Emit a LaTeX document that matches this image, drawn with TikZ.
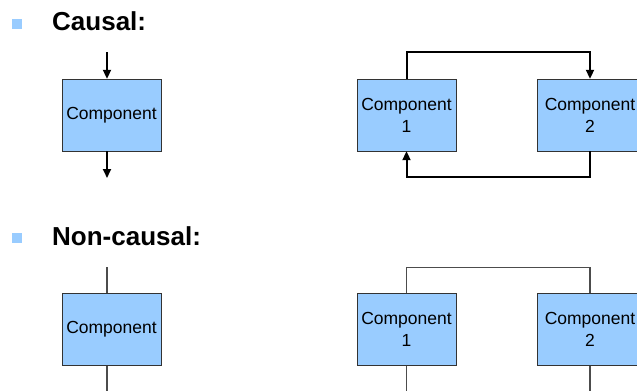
\documentclass[tikz,border=0pt]{standalone}
\usepackage{fontspec}
\setmainfont{Liberation Sans}
\usetikzlibrary{arrows.meta, positioning}
\definecolor{compblue}{HTML}{99CCFF}

\begin{document}
\begin{tikzpicture}[
    x=1pt, y=-1pt,
    comp/.style={rectangle, draw=black!80, fill=compblue, inner sep=0pt, minimum width=99pt, minimum height=72pt, align=center, font=\fontsize{17.5}{22}\selectfont},
    compwide/.style={comp, minimum width=106pt},
    bullet/.style={rectangle, fill=compblue, inner sep=0pt, minimum size=10pt},
    heading/.style={anchor=base west, inner sep=0pt, font=\fontsize{26}{30}\selectfont\bfseries},
    causal/.style={-{Triangle[length=9pt, width=8pt]}, line width=2pt},
    link/.style={draw=black!70, line width=1.2pt}
]
\useasboundingbox (0,0) rectangle (637,391);

% causal
\node[bullet] (bul1) at (17,23.5) {};
\node[heading] (head1) at (52,30) {Causal:};
\node[comp] (single) at (111.5,115) {Component};
\coordinate (singlein) at (107,52);
\coordinate (singleout) at (107,178);
\draw[causal] (singlein) -- (singlein |- single.north);
\draw[causal] (singlein |- single.south) -- (singleout);

\node[comp] (compa) at (406.5,115) {Component\\1};
\node[compwide] (compb) at (590,115) {Component\\2};
\draw[causal] (compa.north) -- ++(0,-27) -| (compb.north);
\draw[causal] (compb.south) -- ++(0,26) -| (compa.south);

% non-causal
\node[bullet] (bul2) at (17,238) {};
\node[heading] (head2) at (52,245) {Non-causal:};
\node[comp] (nsingle) at (111.5,329.5) {Component};
\coordinate (nsinglein) at (107,267);
\coordinate (nsingleout) at (107,391);
\draw[link] (nsinglein) -- (nsinglein |- nsingle.north);
\draw[link] (nsinglein |- nsingle.south) -- (nsingleout);

\node[comp] (ncompa) at (406.5,329.5) {Component\\1};
\node[compwide] (ncompb) at (590,329.5) {Component\\2};
\draw[link] (ncompa.north) -- ++(0,-26) -| (ncompb.north);
\draw[link] (ncompa.south) -- ++(0,25);
\draw[link] (ncompb.south) -- ++(0,25);
\end{tikzpicture}
\end{document}
